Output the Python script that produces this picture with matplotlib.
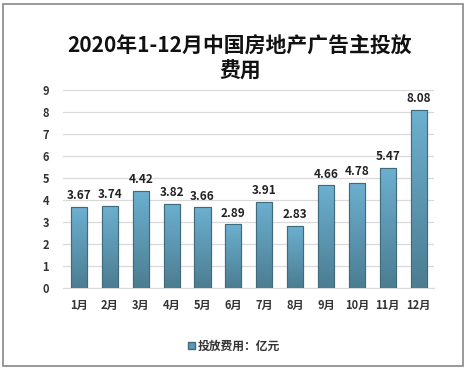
import numpy as np
import matplotlib.pyplot as plt
from matplotlib.patches import Rectangle
from matplotlib.colors import LinearSegmentedColormap

plt.rcParams['font.family'] = ['Noto Sans CJK SC', 'DejaVu Sans']

months = ['1月', '2月', '3月', '4月', '5月', '6月', '7月', '8月', '9月', '10月', '11月', '12月']
values = [3.67, 3.74, 4.42, 3.82, 3.66, 2.89, 3.91, 2.83, 4.66, 4.78, 5.47, 8.08]
title = '2020年1-12月中国房地产广告主投放\n费用'
legend_label = '投放费用：亿元'

fig = plt.figure(figsize=(4.68, 3.71), dpi=100)
fig.patches.append(Rectangle((3/468, 5/371), 460/468, 362/371, transform=fig.transFigure,
                             fill=False, edgecolor='#888888', linewidth=1.2))

ax = fig.add_axes([63/468, 83/371, 371/468, 198/371])
x = np.arange(len(months))
bars = ax.bar(x, values, width=0.52, color='#5a93ad', edgecolor='#3f6b7d', linewidth=0.8,
              zorder=3, label=legend_label)

# vertical gradient inside each bar
grad = np.linspace(0, 1, 256).reshape(-1, 1)
cmap = LinearSegmentedColormap.from_list('g', ['#4c7d91', '#6cb0d0'])
for b in bars:
    x0, w, h = b.get_x(), b.get_width(), b.get_height()
    im = ax.imshow(grad, extent=(x0, x0 + w, 0, h), origin='lower', cmap=cmap,
                   aspect='auto', zorder=3.5)
    im.set_clip_path(b)
    ax.add_patch(Rectangle((x0, 0), w, h, fill=False, edgecolor='#3f6b7d', linewidth=0.8, zorder=4))

for xi, v in zip(x, values):
    ax.text(xi, v + 0.22, f'{v:.2f}', ha='center', va='bottom', fontsize=8.5,
            fontweight='bold', color='#222222')

ax.set_xlim(-0.52, 11.5)
ax.set_ylim(0, 9)
ax.set_yticks(range(10))
ax.set_xticks(x)
ax.set_xticklabels(months)
ax.grid(axis='y', color='#d9d9d9', linewidth=0.9, zorder=0)
for s in ['top', 'right', 'left']:
    ax.spines[s].set_visible(False)
ax.spines['bottom'].set_color('#d9d9d9')
ax.tick_params(length=0, labelsize=8, colors='#333333')
ax.tick_params(axis='y', pad=10)
ax.tick_params(axis='x', pad=8)
for lab in ax.get_xticklabels() + ax.get_yticklabels():
    lab.set_fontweight('bold')

fig.text(0.513, 289/371, title, ha='center', va='bottom', fontsize=15,
         fontweight='bold', color='#111111', linespacing=1.25)

leg = fig.legend(handles=[Rectangle((0, 0), 1, 1, facecolor='#5e98b3', edgecolor='#3f6b7d')],
                 labels=[legend_label], loc='center', bbox_to_anchor=(0.5, 25/371),
                 frameon=False, handlelength=0.6, handleheight=0.6, handletextpad=0.3,
                 prop={'size': 8.5, 'weight': 'bold'})
for t in leg.get_texts():
    t.set_color('#333333')

fig.savefig('out.png', dpi=100)
